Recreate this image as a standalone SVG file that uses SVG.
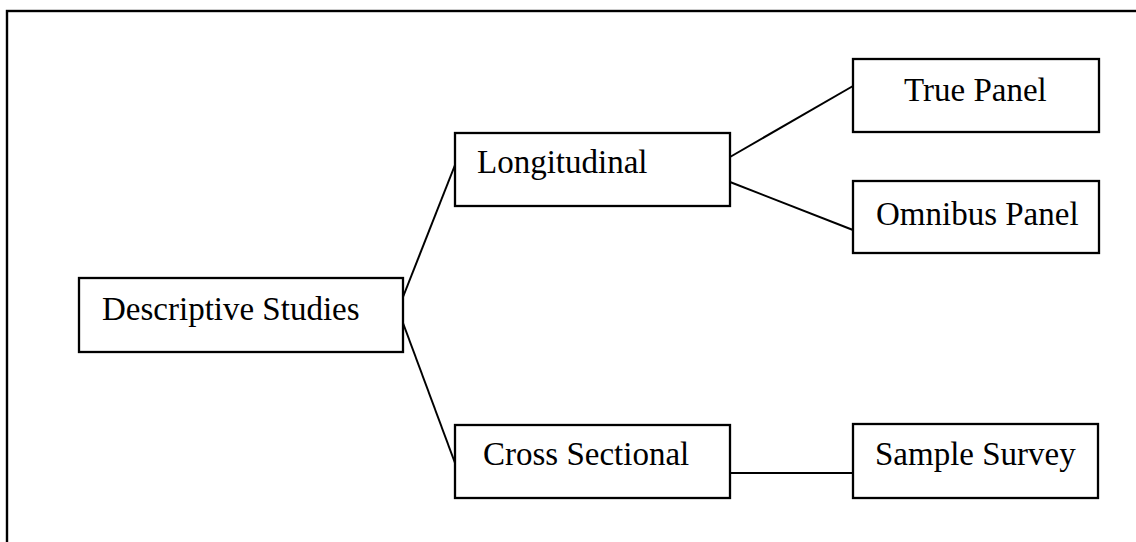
<svg xmlns="http://www.w3.org/2000/svg" width="1136" height="542" viewBox="0 0 1136 542">
<style>
.box{fill:#fff;stroke:#000;stroke-width:2.3}
.lbl{font-family:"Liberation Serif","Times New Roman",serif;font-size:33px;fill:#000}
.conn line{stroke:#000;stroke-width:2}
</style>
<rect x="0" y="0" width="1136" height="542" fill="#fff"/>
<rect id="frame" x="7" y="11" width="1140" height="545" fill="none" stroke="#000" stroke-width="2.4"/>
<g class="conn" id="connectors">
<line x1="403" y1="297" x2="455" y2="165"/>
<line x1="403" y1="323" x2="455" y2="463"/>
<line x1="730" y1="157" x2="853" y2="86"/>
<line x1="730" y1="182" x2="853" y2="230"/>
<line x1="730" y1="473" x2="853" y2="473"/>
</g>
<g id="descriptive"><rect class="box" x="79" y="278" width="324" height="74"/><text class="lbl" x="102" y="320">Descriptive Studies</text></g>
<g id="longitudinal"><rect class="box" x="455" y="133" width="275" height="73"/><text class="lbl" x="477" y="173">Longitudinal</text></g>
<g id="truepanel"><rect class="box" x="853" y="59" width="246" height="73"/><text class="lbl" x="904" y="101">True Panel</text></g>
<g id="omnibus"><rect class="box" x="853" y="181" width="246" height="72"/><text class="lbl" x="876" y="225">Omnibus Panel</text></g>
<g id="cross"><rect class="box" x="455" y="425" width="275" height="73"/><text class="lbl" x="483" y="465">Cross Sectional</text></g>
<g id="sample"><rect class="box" x="853" y="424" width="245" height="74"/><text class="lbl" x="875" y="465">Sample Survey</text></g>
</svg>
